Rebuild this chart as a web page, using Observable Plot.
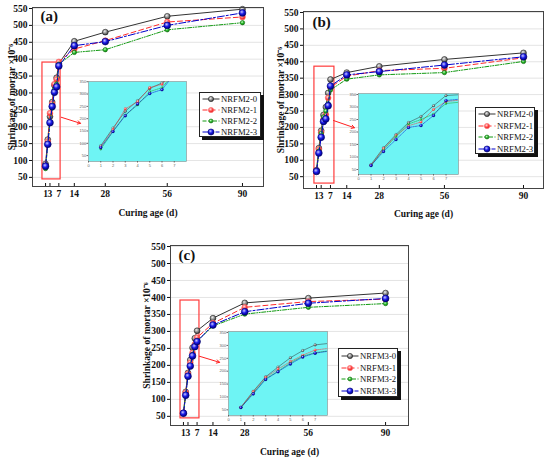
<!DOCTYPE html>
<html><head><meta charset="utf-8">
<script src="https://cdn.jsdelivr.net/npm/d3@7"></script>
<script src="https://cdn.jsdelivr.net/npm/@observablehq/plot@0.6"></script>
<style>
body{margin:0;background:#fff}
#wrap{position:relative;width:550px;height:458px;overflow:hidden;background:#fff}
.abs{position:absolute}
.legend{position:absolute;background:#fff;border:1px solid #222;box-shadow:3px 3px 0 #111;font-family:"Liberation Serif","Times New Roman",serif;font-size:8.7px;box-sizing:border-box;color:#111;overflow:visible}
.row{display:flex;align-items:center;height:11px;white-space:nowrap;overflow:visible}
.row svg{flex:none}
.row span{flex:none}
</style></head><body>
<svg width="0" height="0" style="position:absolute">
<defs>
<radialGradient id="g0" cx="40%" cy="35%" r="65%"><stop offset="0%" stop-color="#f0f0f0"/><stop offset="55%" stop-color="#8a8a8a"/><stop offset="100%" stop-color="#3a3a3a"/></radialGradient>
<radialGradient id="g1" cx="40%" cy="35%" r="65%"><stop offset="0%" stop-color="#ffe0e0"/><stop offset="55%" stop-color="#ff4a4a"/><stop offset="100%" stop-color="#e01010"/></radialGradient>
<radialGradient id="g2" cx="40%" cy="35%" r="65%"><stop offset="0%" stop-color="#c8ffc8"/><stop offset="55%" stop-color="#2cb82c"/><stop offset="100%" stop-color="#0c7a0c"/></radialGradient>
<radialGradient id="g3" cx="40%" cy="35%" r="65%"><stop offset="0%" stop-color="#c8c8ff"/><stop offset="50%" stop-color="#1a1ae8"/><stop offset="100%" stop-color="#00007a"/></radialGradient>
</defs></svg>
<div id="wrap"></div>
<script>
// ---------- data ----------
const days = [1, 2, 3, 4, 5, 6, 7, 14, 28, 56, 90];
const xTicks = [1, 3, 7, 14, 28, 56, 90];
const yTicks = [50, 100, 150, 200, 250, 300, 350, 400, 450, 500, 550];
const insetXTicks = [0, 1, 2, 3, 4, 5, 6, 7];
const insetYTicks = [50, 100, 150, 200, 250, 300, 350];
const namesM2 = ["NRFM2-0", "NRFM2-1", "NRFM2-2", "NRFM2-3"];
const namesM3 = ["NRFM3-0", "NRFM3-1", "NRFM3-2", "NRFM3-3"];

// panel (a)
const a0 = [90, 162, 230, 273, 323, 345, 387, 453, 480, 527, 548];
const a1 = [85, 156, 240, 268, 326, 340, 392, 430, 455, 510, 525];
const a2 = [76, 148, 215, 255, 310, 326, 385, 420, 428, 487, 508];
const a3 = [83, 148, 212, 260, 302, 318, 380, 440, 452, 500, 537];
// panel (b)
const b0 = [70, 137, 190, 238, 262, 305, 346, 367, 386, 407, 427];
const b1 = [67, 133, 185, 225, 240, 290, 322, 356, 373, 380, 412];
const b2 = [65, 128, 182, 232, 250, 272, 314, 347, 360, 367, 401];
const b3 = [66, 122, 170, 218, 226, 266, 326, 360, 370, 390, 415];
// panel (c)
const c0 = [60, 122, 178, 216, 252, 280, 302, 339, 384, 398, 413];
const c1 = [60, 120, 175, 208, 237, 262, 282, 324, 371, 388, 395];
const c2 = [58, 115, 170, 200, 232, 258, 272, 316, 351, 371, 382];
const c3 = [59, 112, 168, 198, 228, 255, 270, 319, 358, 383, 397];

// zoom windows (data units) and pointer arrows
const zoomA = {x1: -0.4, x2: 7.8, y1: 44, y2: 390};
const zoomB = {x1: 0.1, x2: 8.7, y1: 29, y2: 385};
const zoomC = {x1: -0.3, x2: 8.05, y1: 44, y2: 391};
const arrowA = {x1: 8.1, y1: 228, x2: 16.8, y2: 210};
const arrowB = {x1: 8.3, y1: 221, x2: 17.3, y2: 199};
const arrowC = {x1: 8.0, y1: 227, x2: 16.9, y2: 209};

// ---------- styles ----------
const styles = [
  {stroke: "#333", dash: null, idash: null, fill: "url(#g0)", ms: "#222", r: 2.9},
  {stroke: "#ff2a2a", dash: "5,3", idash: "1.5,1", fill: "url(#g1)", ms: "#ff7070", r: 2.9},
  {stroke: "#129a12", dash: "4,1.5,1,1.5,1,1.5", idash: "1,1", fill: "url(#g2)", ms: "#0b6e0b", r: 2.2},
  {stroke: "#0000cc", dash: "7,2,2,2", idash: "2,1,0.6,1", fill: "url(#g3)", ms: "#000070", r: 3.4}
];
const serif = '"Liberation Serif","Times New Roman",serif';

function seriesMarks(series, o) {
  const marks = [];
  series.forEach((vals, i) => {
    const st = styles[i];
    const data = days.map((d, j) => ({x: d, y: vals[j]}));
    marks.push(Plot.line(data, {x: "x", y: "y", stroke: st.stroke, strokeWidth: o.lw,
      strokeDasharray: o.inset ? st.idash : st.dash, clip: o.clip}));
    marks.push(Plot.dot(data, {x: "x", y: "y", r: st.r * o.rs, fill: st.fill, stroke: st.ms,
      strokeWidth: o.inset ? 0.2 : 0.6, clip: o.clip}));
  });
  return marks;
}

function mainPlot(c) {
  return Plot.plot({
    width: c.w, height: c.h,
    marginLeft: c.ml, marginRight: c.mr, marginTop: c.mt, marginBottom: c.mb,
    x: {domain: c.xd},
    y: {domain: c.yd},
    style: {fontFamily: serif, fontSize: "9.5px", fontWeight: "bold", color: "#111", background: "transparent", overflow: "visible"},
    marks: [
      Plot.gridY(yTicks, {stroke: "#bbb", strokeOpacity: 0.4}),
      Plot.rect([c.box], {x1: "x1", x2: "x2", y1: "y1", y2: "y2", fill: "none", stroke: "#ff3b3b", strokeWidth: 1.2}),
      Plot.arrow([c.arrow], {x1: "x1", y1: "y1", x2: "x2", y2: "y2", stroke: "#ff2020", strokeWidth: 1, headLength: 5}),
      ...seriesMarks(c.series, {lw: 1, rs: 1}),
      Plot.frame({stroke: "#444", strokeWidth: 1}),
      Plot.text([c.tag], {text: d => d, frameAnchor: "top-left", dx: c.tdx, dy: c.tdy, fontSize: 15, fontWeight: "bold", lineAnchor: "top", textAnchor: "start"}),
      Plot.axisY({ticks: yTicks, tickSize: 3, tickPadding: 2, label: "Shrinkage of mortar ×10⁻⁶", labelAnchor: "center", labelArrow: "none", labelOffset: c.ylo}),
      Plot.axisX({ticks: xTicks, tickSize: -3, tickPadding: 6.5, label: "Curing age (d)", labelAnchor: "center", labelArrow: "none", labelOffset: c.xlo})
    ]
  });
}

function insetPlot(c) {
  return Plot.plot({
    width: c.w, height: c.h,
    marginLeft: 10, marginRight: c.mr, marginTop: 3, marginBottom: 7,
    x: {domain: [0, 8]},
    y: {domain: c.yd},
    style: {fontFamily: '"Liberation Sans",sans-serif', fontSize: "4px", color: "#666", background: "transparent"},
    marks: [
      Plot.frame({fill: "#6ef4f4", stroke: "#8a8a8a", strokeWidth: 0.6}),
      ...seriesMarks(c.series, {lw: 0.5, rs: 0.45, clip: true, inset: true}),
      Plot.axisX({ticks: insetXTicks, tickSize: 1.5, tickPadding: 0.8, label: null}),
      Plot.axisY({ticks: insetYTicks, tickSize: 1.5, tickPadding: 0.8, label: null})
    ]
  });
}

function legend(names, b) {
  const div = document.createElement("div");
  div.className = "legend";
  Object.assign(div.style, {left: b.l + "px", top: b.t + "px", width: b.w + "px", height: b.h + "px", paddingTop: b.pt + "px"});
  names.forEach((n, i) => {
    const st = styles[i];
    const row = document.createElement("div");
    row.className = "row";
    row.style.height = b.rh + "px";
    row.innerHTML = `<svg width="21" height="10"><line x1="2.5" x2="19.5" y1="5" y2="5" stroke="${st.stroke}" stroke-width="1" ${st.dash ? `stroke-dasharray="${st.dash}"` : ""}/><circle cx="11" cy="5" r="${st.r * 0.9}" fill="${st.fill}" stroke="${st.ms}" stroke-width="0.6"/></svg><span>${n}</span>`;
    div.appendChild(row);
  });
  return div;
}

function place(el, left, top) {
  const d = document.createElement("div");
  d.className = "abs";
  d.style.left = left + "px";
  d.style.top = top + "px";
  d.appendChild(el);
  return d;
}

const wrap = document.getElementById("wrap");

// panel (a)
wrap.appendChild(place(mainPlot({w: 275, h: 225, ml: 32, mr: 12, mt: 7, mb: 39, xd: [-4.9, 99.5], yd: [23, 553],
  series: [a0, a1, a2, a3], box: zoomA, arrow: arrowA, tag: "(a)", tdx: 8, tdy: 3, ylo: 24.5, xlo: 29}), 0, 0));
// panel (b)
wrap.appendChild(place(mainPlot({w: 275, h: 225, ml: 28, mr: 7, mt: 11, mb: 37, xd: [-4.6, 98.6], yd: [14, 553],
  series: [b0, b1, b2, b3], box: zoomB, arrow: arrowB, tag: "(b)", tdx: 9, tdy: 5, ylo: 26.5, xlo: 28}), 275, 0));
// panel (c)
wrap.appendChild(place(mainPlot({w: 275, h: 226, ml: 30, mr: 7, mt: 13, mb: 33, xd: [-4.7, 100.1], yd: [23, 553],
  series: [c0, c1, c2, c3], box: zoomC, arrow: arrowC, tag: "(c)", tdx: 8, tdy: 4, ylo: 27, xlo: 29}), 140, 232));

// insets
wrap.appendChild(place(insetPlot({w: 112, h: 90, mr: 4, yd: [26, 351], series: [a0, a1, a2, a3]}), 78, 78));
wrap.appendChild(place(insetPlot({w: 114, h: 91, mr: 4, yd: [30, 354], series: [b0, b1, b2, b3]}), 348, 90));
wrap.appendChild(place(insetPlot({w: 113, h: 94, mr: 4, yd: [28, 354], series: [c0, c1, c2, c3]}), 218, 328));

// legends
wrap.appendChild(legend(namesM2, {l: 199, t: 92, w: 62, h: 45, pt: 0, rh: 11}));
wrap.appendChild(legend(namesM2, {l: 475, t: 107, w: 60, h: 47, pt: 0.5, rh: 11.5}));
wrap.appendChild(legend(namesM3, {l: 338, t: 348, w: 60, h: 49, pt: 1, rh: 11.8}));
</script></body></html>
